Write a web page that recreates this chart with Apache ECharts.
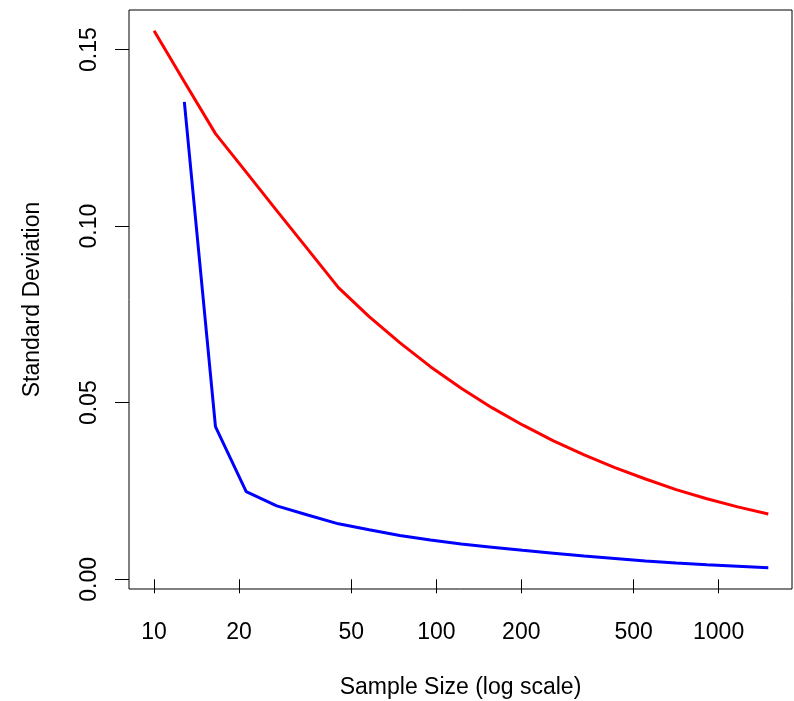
<!DOCTYPE html>
<html>
<head>
<meta charset="utf-8">
<script src="https://cdn.jsdelivr.net/npm/echarts@6/dist/echarts.min.js"></script>
<style>
html,body{margin:0;padding:0;background:#fff;}
#chart{width:794px;height:701px;}
</style>
</head>
<body>
<div id="chart"></div>
<script>
// Sample sizes (log-spaced)
var sampleSizes = [10, 12.8, 16.5, 21.2, 27.2, 35, 45, 57.8, 74.2, 95.3, 122.5, 157.3, 202, 260, 334, 429, 551, 707, 909, 1168, 1500];
// Red series (starts at n = 10)
var redSD = [0.1553, 0.1409, 0.1262, 0.1153, 0.1044, 0.0935, 0.0826, 0.0744, 0.0670, 0.0602, 0.0541, 0.0486, 0.0437, 0.0392, 0.0352, 0.0316, 0.0284, 0.0254, 0.0228, 0.0205, 0.0185];
// Blue series (starts at the second sample size)
var blueSD = [null, 0.1352, 0.0432, 0.0248, 0.0208, 0.0182, 0.0157, 0.0140, 0.0124, 0.0111, 0.0100, 0.0091, 0.0082, 0.0074, 0.0066, 0.0059, 0.0052, 0.0046, 0.0041, 0.0037, 0.0033];
var xTicks = [10, 20, 50, 100, 200, 500, 1000];
var yTicks = [0, 0.05, 0.10, 0.15];

function pairs(xs, ys) {
  var out = [];
  for (var i = 0; i < xs.length; i++) {
    if (ys[i] !== null) out.push([xs[i], ys[i]]);
  }
  return out;
}

var font = '"Liberation Sans", Arial, Helvetica, sans-serif';
var chart = echarts.init(document.getElementById('chart'), null, {renderer: 'canvas'});
chart.setOption({
  animation: false,
  backgroundColor: '#ffffff',
  grid: {
    left: 129, top: 10, width: 663, height: 579,
    show: true, borderColor: '#000', borderWidth: 1, backgroundColor: 'transparent',
    containLabel: false,
    outerBoundsMode: 'none'
  },
  xAxis: {
    type: 'log',
    logBase: 10,
    min: 8.15,
    max: 1820,
    name: 'Sample Size (log scale)',
    nameLocation: 'middle',
    nameGap: 87,
    nameTextStyle: {fontFamily: font, fontSize: 23, color: '#000'},
    axisLine: {show: false},
    splitLine: {show: false},
    minorTick: {show: false},
    axisTick: {show: true, length: 14, inside: false, lineStyle: {color: '#000', width: 1}, customValues: xTicks},
    axisLabel: {
      fontFamily: font, fontSize: 23, color: '#000', margin: 32,
      customValues: xTicks,
      formatter: function (v) { return String(Math.round(v)); }
    }
  },
  yAxis: {
    type: 'value',
    min: -0.00275,
    max: 0.1612,
    name: 'Standard Deviation',
    nameLocation: 'middle',
    nameRotate: 90,
    nameGap: 85,
    nameTextStyle: {fontFamily: font, fontSize: 23, color: '#000'},
    axisLine: {show: false},
    splitLine: {show: false},
    axisTick: {show: true, length: 14, inside: false, lineStyle: {color: '#000', width: 1}, customValues: yTicks},
    axisLabel: {
      fontFamily: font, fontSize: 23, color: '#000', margin: 28, rotate: 90,
      customValues: yTicks,
      formatter: function (v) { return v.toFixed(2); }
    }
  },
  series: [
    {
      type: 'line', name: 'red', data: pairs(sampleSizes, redSD),
      showSymbol: false, symbol: 'none',
      lineStyle: {color: '#ff0000', width: 3}, itemStyle: {color: '#ff0000'},
      z: 3
    },
    {
      type: 'line', name: 'blue', data: pairs(sampleSizes, blueSD),
      showSymbol: false, symbol: 'none',
      lineStyle: {color: '#0000ff', width: 3}, itemStyle: {color: '#0000ff'},
      z: 3
    }
  ]
});
</script>
</body>
</html>
